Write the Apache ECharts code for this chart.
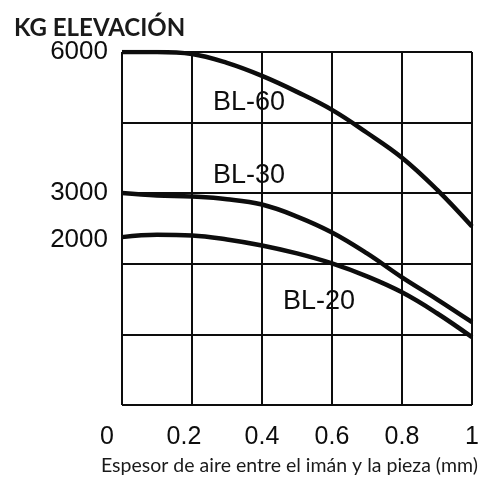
<!DOCTYPE html>
<html>
<head>
<meta charset="utf-8">
<script src="https://cdn.jsdelivr.net/npm/echarts@6/dist/echarts.min.js"></script>
<style>html,body{margin:0;padding:0;background:#fff}#c{width:478px;height:481px}</style>
</head>
<body>
<div id="c"></div>
<script>
// Data (x: air gap mm, y: kg)
const xValues = [0, 0.1, 0.2, 0.3, 0.4, 0.5, 0.6, 0.7, 0.8, 0.9, 1.0];
const bl60 = [6000, 6000, 5957, 5766, 5489, 5149, 4766, 4277, 3745, 3064, 2277];
const bl30 = [2990, 2940, 2915, 2860, 2745, 2489, 2149, 1702, 1191, 723, 234];
const bl20 = [2050, 2100, 2085, 2000, 1872, 1702, 1489, 1213, 872, 426, -85];
const seriesNames = ['BL-60', 'BL-30', 'BL-20'];
const labelX = [0.26, 0.26, 0.46];
const labelY = [4926, 3362, 681];
const yTickLabels = [2000, 3000, 6000];
const xTickLabels = [0, 0.2, 0.4, 0.6, 0.8, 1];
const titleText = 'KG ELEVACIÓN';
const xAxisName = 'Espesor de aire entre el imán y la pieza (mm)';

const allSeries = [bl60, bl30, bl20];
const chart = echarts.init(document.getElementById('c'), null, {renderer: 'canvas'});
const lineColor = '#0d0d0d';
const textColor = '#0d0d0d';
const font = 'Liberation Sans';

const option = {
  backgroundColor: '#fff',
  animation: false,
  title: [
    {text: titleText, left: 9, top: 11,
     textStyle: {fontFamily: 'Lato', fontWeight: 'bold', fontSize: 24, color: '#1a1a1a'}},
    {text: xAxisName, left: 96, top: 451,
     textStyle: {fontFamily: 'Lato', fontWeight: 'normal', fontSize: 19.5, color: '#1a1a1a'}}
  ],
  grid: {left: 122, right: 6, top: 52, bottom: 76, containLabel: false, outerBoundsMode: 'none'},
  xAxis: {
    type: 'value', min: 0, max: 1, interval: 0.2,
    axisLine: {show: false}, axisTick: {show: false},
    splitLine: {show: true, lineStyle: {color: lineColor, width: 2}},
    axisLabel: {
      margin: 20,
      customValues: xTickLabels,
      fontFamily: font, fontSize: 25, color: textColor,
      formatter: function (v) {
        if (v === 0) return '{z|0}';
        if (Math.abs(v - 0.2) < 1e-9) return '{t|0.2}';
        return String(+v.toFixed(1));
      },
      rich: {
        z: {fontFamily: font, fontSize: 25, color: textColor, padding: [0, 30, 0, 0]},
        t: {fontFamily: font, fontSize: 25, color: textColor, padding: [0, 16, 0, 0]}
      }
    }
  },
  yAxis: [
    {
      type: 'value', min: -1532, max: 6000,
      axisLine: {show: false}, axisTick: {show: false},
      splitLine: {show: false},
      axisLabel: {
        margin: 14, customValues: yTickLabels,
        formatter: function (v) { return String(v); },
        fontFamily: font, fontSize: 26, color: textColor
      }
    },
    {
      type: 'value', min: 0, max: 5, interval: 1, position: 'right',
      axisLine: {show: false}, axisTick: {show: false}, axisLabel: {show: false},
      splitLine: {show: true, lineStyle: {color: lineColor, width: 2}}
    }
  ],
  series: allSeries.map(function (vals, i) {
    return {
      name: seriesNames[i], type: 'line', yAxisIndex: 0,
      data: xValues.map(function (x, j) { return [x, vals[j]]; }),
      smooth: 0.4, showSymbol: false, symbol: 'none',
      lineStyle: {color: lineColor, width: 4.5},
      z: 5,
      markPoint: {
        symbol: 'circle', symbolSize: 0,
        data: [{coord: [labelX[i], labelY[i]], name: seriesNames[i]}],
        label: {show: true, position: 'right', distance: 0, formatter: '{b}',
                fontFamily: font, fontSize: 27, color: textColor}
      }
    };
  })
};
chart.setOption(option);
</script>
</body>
</html>
